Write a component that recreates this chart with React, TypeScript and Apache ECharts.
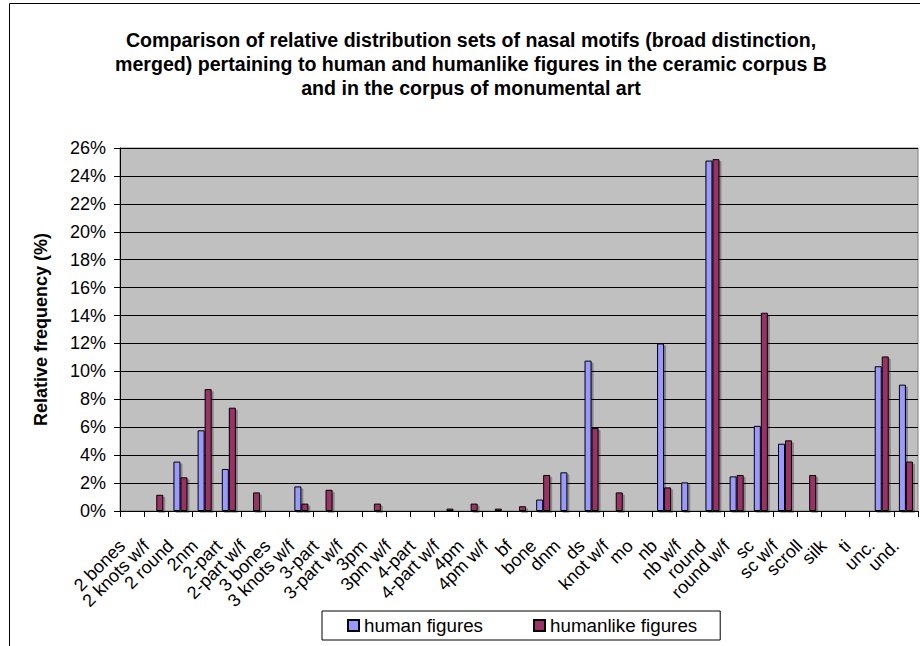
import React, { useEffect, useRef } from "react";
import * as echarts from "echarts";

const categories = [
  "2 bones", "2 knots w/f", "2 round", "2nm", "2-part", "2-part w/f", "3 bones",
  "3 knots w/f", "3-part", "3-part w/f", "3pm", "3pm w/f", "4-part", "4-part w/f",
  "4pm", "4pm w/f", "bf", "bone", "dnm", "ds", "knot w/f", "mo", "nb", "nb w/f",
  "round", "round w/f", "sc", "sc w/f", "scroll", "silk", "ti", "unc.", "und.",
];

const humanFigures = [
  null, null, 3.54, 5.78, 3.01, null, null, 1.76, null, null, null, null, null, null,
  null, null, null, 0.82, 2.77, 10.77, null, null, 12.0, 2.05, 25.1, 2.48, 6.1, 4.82,
  null, null, null, 10.37, 9.05,
];

const humanlikeFigures = [
  null, 1.16, 2.41, 8.73, 7.4, 1.33, null, 0.53, 1.52, null, 0.53, null, null, 0.17,
  0.53, 0.17, 0.34, 2.58, null, 5.95, 1.33, null, 1.69, null, 25.2, 2.58, 14.2, 5.06,
  2.58, null, null, 11.07, 3.54,
];

const seriesNames = ["human figures", "humanlike figures"];
const titleLines = [
  "Comparison of relative distribution sets of nasal motifs (broad distinction,",
  "merged) pertaining to human and humanlike figures in the ceramic corpus B",
  "and in the corpus of monumental art",
];
const yAxisTitle = "Relative frequency (%)";

const FONT = '"Liberation Sans", Arial, sans-serif';

export default function App() {
  const ref = useRef<HTMLDivElement>(null);

  useEffect(() => {
    document.body.style.margin = "0";
    if (!ref.current) return;
    const chart = echarts.init(ref.current, null, { renderer: "svg" });
    const barStyle = (color: string) => ({
      color,
      borderColor: "#000000",
      borderWidth: 1,
      shadowColor: "rgba(0,0,0,0.3)",
      shadowBlur: 1,
      shadowOffsetX: 2,
      shadowOffsetY: 2,
    });
    chart.setOption({
      animation: false,
      backgroundColor: "#ffffff",
      textStyle: { fontFamily: FONT },
      graphic: [
        {
          type: "rect",
          shape: { x: 9.5, y: 3.5, width: 1200, height: 1200 },
          style: { fill: "none", stroke: "#000000", lineWidth: 1 },
          silent: true,
        },
        {
          type: "text",
          x: 471,
          y: 28,
          style: {
            text: titleLines.join("\n"),
            textAlign: "center",
            fontFamily: FONT,
            fontWeight: "bold",
            fontSize: 19.6,
            lineHeight: 24,
            fill: "#000000",
          },
        },
      ],
      legend: {
        data: seriesNames,
        left: 322,
        top: 611,
        orient: "horizontal",
        padding: [5, 23, 5, 25],
        itemGap: 50,
        itemWidth: 11,
        itemHeight: 11,
        borderColor: "#000000",
        borderWidth: 1,
        icon: "rect",
        textStyle: { fontFamily: FONT, fontSize: 18.8, color: "#000000" },
      },
      grid: {
        left: 120,
        right: 2,
        top: 148,
        bottom: 135,
        show: true,
        backgroundColor: "#C0C0C0",
        borderColor: "#808080",
        borderWidth: 1,
      },
      xAxis: {
        type: "category",
        data: categories,
        axisLine: { lineStyle: { color: "#000000", width: 1 } },
        axisTick: { show: true, length: 6, lineStyle: { color: "#000000" } },
        axisLabel: {
          interval: 0,
          rotate: 45,
          margin: 22,
          padding: [0, 14, 0, 0],
          fontSize: 18,
          color: "#000000",
          fontFamily: FONT,
        },
      },
      yAxis: {
        type: "value",
        min: 0,
        max: 26,
        interval: 2,
        name: yAxisTitle,
        nameLocation: "middle",
        nameGap: 70,
        nameTextStyle: {
          fontFamily: FONT,
          fontSize: 18,
          fontWeight: "bold",
          color: "#000000",
        },
        axisLine: { show: true, lineStyle: { color: "#000000", width: 1 } },
        axisTick: { show: true, length: 6, lineStyle: { color: "#000000" } },
        axisLabel: {
          formatter: "{value}%",
          fontSize: 18,
          margin: 14,
          color: "#000000",
          fontFamily: FONT,
        },
        splitLine: { show: true, lineStyle: { color: "#000000", width: 1 } },
      },
      series: [
        {
          name: seriesNames[0],
          type: "bar",
          data: humanFigures,
          barGap: "0%",
          barCategoryGap: "42%",
          itemStyle: barStyle("#9999FF"),
        },
        {
          name: seriesNames[1],
          type: "bar",
          data: humanlikeFigures,
          barGap: "0%",
          barCategoryGap: "42%",
          itemStyle: barStyle("#993366"),
        },
      ],
    });
    return () => chart.dispose();
  }, []);

  return <div ref={ref} style={{ width: 920, height: 646 }} />;
}
